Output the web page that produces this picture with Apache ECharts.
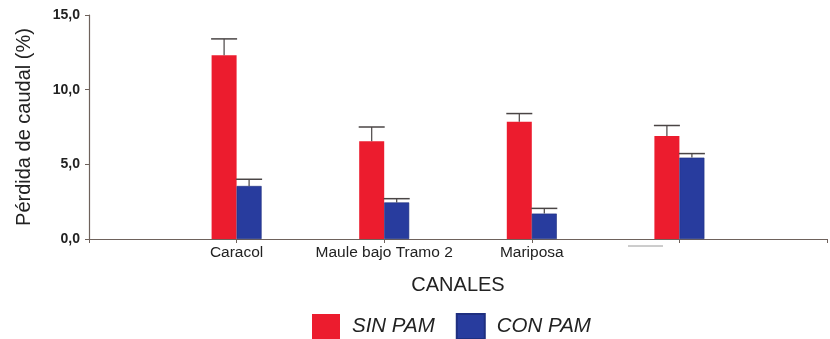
<!DOCTYPE html>
<html>
<head>
<meta charset="utf-8">
<script src="https://cdn.jsdelivr.net/npm/echarts@6/dist/echarts.min.js"></script>
<style>
  html, body { margin: 0; padding: 0; background: #ffffff; }
  #chart { width: 830px; height: 339px; }
</style>
</head>
<body>
<div id="chart"></div>
<script>
// Canal categories (empty slots keep the outer spacing of the axis)
const categories = ['', 'Caracol', 'Maule bajo Tramo 2', 'Mariposa', '', ''];
const barIndex = [1, 2, 3, 4];

// Flow loss (%) per canal, with and without PAM
const sinPam = [12.3, 6.55, 7.85, 6.9];
const conPam = [3.55, 2.45, 1.7, 5.45];

// Upper end of the error bars
const sinPamErr = [13.4, 7.5, 8.4, 7.6];
const conPamErr = [4.0, 2.7, 2.05, 5.72];

const yTicks = [0, 5, 10, 15];

const RED = '#ec1c2e';
const BLUE = '#283c9e';
const AXIS = '#6e625c';
const BAR_W = 25;
const FONT = 'Liberation Sans, Arial, sans-serif';

function toBarData(vals) {
  return vals.map((v, i) => [barIndex[i], v]);
}
function toErrData(vals, tops) {
  return vals.map((v, i) => [barIndex[i], v, tops[i]]);
}

function errorRenderer(shift) {
  return function (params, api) {
    const base = api.coord([api.value(0), api.value(1)]);
    const top = api.coord([api.value(0), api.value(2)]);
    const x = base[0] + shift;
    const half = 13;
    return {
      type: 'group',
      children: [
        { type: 'line', shape: { x1: x, y1: base[1], x2: x, y2: top[1] },
          style: { stroke: '#4a4545', lineWidth: 1.2 } },
        { type: 'line', shape: { x1: x - half, y1: top[1], x2: x + half, y2: top[1] },
          style: { stroke: '#4a4545', lineWidth: 1.5 } }
      ]
    };
  };
}

const chart = echarts.init(document.getElementById('chart'), null, { renderer: 'canvas' });

chart.setOption({
  animation: false,
  backgroundColor: '#ffffff',
  grid: { left: 89, right: 2, top: 15, bottom: 100, containLabel: false },
  legend: {
    top: 313,
    left: 312,
    padding: 0,
    icon: 'rect',
    itemWidth: 28,
    itemHeight: 25,
    itemGap: 21,
    data: ['SIN PAM', 'CON PAM'],
    textStyle: { fontFamily: FONT, fontSize: 20.5, fontStyle: 'italic', color: '#222', padding: [0, 0, 0, 7] }
  },
  xAxis: {
    type: 'category',
    data: categories,
    boundaryGap: false,
    name: 'CANALES',
    nameLocation: 'middle',
    nameGap: 36,
    nameTextStyle: { fontFamily: FONT, fontSize: 20, color: '#222' },
    axisLine: { lineStyle: { color: AXIS, width: 1.2 } },
    axisTick: { show: true, length: 4, lineStyle: { color: AXIS } },
    axisLabel: { fontFamily: FONT, fontSize: 15.5, color: '#222', margin: 6, interval: 0 },
    splitLine: { show: false }
  },
  yAxis: {
    type: 'value',
    min: 0,
    max: 15,
    interval: 5,
    name: 'Pérdida de caudal (%)',
    nameLocation: 'middle',
    nameGap: 55,
    nameTextStyle: { fontFamily: FONT, fontSize: 20, color: '#222' },
    axisLine: { show: true, lineStyle: { color: AXIS, width: 1.2 } },
    axisTick: { show: true, length: 4, lineStyle: { color: AXIS } },
    axisLabel: {
      fontFamily: FONT, fontSize: 14, fontWeight: 'bold', color: '#222', margin: 9,
      formatter: v => yTicks.includes(v) ? v.toFixed(1).replace('.', ',') : ''
    },
    splitLine: { show: false }
  },
  series: [
    {
      name: 'SIN PAM', type: 'bar', data: toBarData(sinPam),
      barWidth: BAR_W, barGap: '0%',
      itemStyle: { color: RED }
    },
    {
      name: 'CON PAM', type: 'bar', data: toBarData(conPam),
      barWidth: BAR_W, barGap: '0%',
      itemStyle: { color: BLUE, borderColor: '#1f2f80', borderWidth: 0.6 }
    },
    {
      type: 'custom', renderItem: errorRenderer(-BAR_W / 2),
      data: toErrData(sinPam, sinPamErr), z: 5, silent: true
    },
    {
      type: 'custom', renderItem: errorRenderer(BAR_W / 2),
      data: toErrData(conPam, conPamErr), z: 5, silent: true
    }
  ],
  graphic: [
    { type: 'line', shape: { x1: 628, y1: 246, x2: 663, y2: 246 },
      style: { stroke: '#9a9a9a', lineWidth: 1 } }
  ]
});
</script>
</body>
</html>
